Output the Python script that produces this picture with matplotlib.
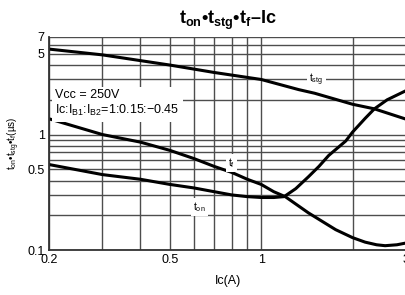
import numpy as np
import matplotlib.pyplot as plt
from matplotlib.ticker import NullFormatter

plt.rcParams['font.family'] = ['Liberation Sans', 'DejaVu Sans']
plt.rcParams['mathtext.fontset'] = 'custom'
plt.rcParams['mathtext.rm'] = 'Liberation Sans'
plt.rcParams['mathtext.bf'] = 'Liberation Sans:bold'
plt.rcParams['mathtext.default'] = 'regular'

# dane (Ic w A, czasy w µs)
ic_stg = [0.2, 0.3, 0.5, 0.7, 1.0, 1.33, 1.5, 2.0, 2.36, 3.0]
t_stg = [5.5, 4.9, 4.0, 3.45, 3.0, 2.45, 2.28, 1.83, 1.67, 1.36]

ic_f = [0.2, 0.3, 0.4, 0.5, 0.6, 0.7, 0.8, 0.9, 1.0, 1.1, 1.2, 1.43, 1.6,
        1.76, 2.0, 2.2, 2.4, 2.56, 2.8, 3.0]
t_f = [1.37, 1.0, 0.86, 0.73, 0.62, 0.53, 0.47, 0.41, 0.37, 0.32, 0.29,
       0.21, 0.175, 0.15, 0.128, 0.117, 0.111, 0.109, 0.111, 0.115]

ic_on = [0.2, 0.3, 0.4, 0.5, 0.6, 0.7, 0.8, 0.9, 1.0, 1.1, 1.19, 1.3,
         1.43, 1.55, 1.67, 1.8, 1.9, 2.0, 2.2, 2.36, 2.6, 3.0]
t_on = [0.55, 0.45, 0.41, 0.37, 0.345, 0.32, 0.30, 0.29, 0.285, 0.285,
        0.29, 0.34, 0.43, 0.53, 0.66, 0.78, 0.88, 1.05, 1.38, 1.67, 2.0, 2.4]

x_ticks = [0.2, 0.5, 1, 3]
x_labels = ['0.2', '0.5', '1', '3']
x_grid = [0.3, 0.4, 0.6, 0.7, 0.8, 0.9, 2]
y_ticks = [0.1, 0.5, 1, 5, 7]
y_labels = ['0.1', '0.5', '1', '5', '7']
y_grid = [0.2, 0.3, 0.4, 0.6, 0.7, 0.8, 0.9, 2, 3, 4, 6]

fig = plt.figure(figsize=(4.06, 2.95), dpi=100)
ax = fig.add_axes([0.1207, 0.1525, 0.8793, 0.7221])
ax.set_xscale('log')
ax.set_yscale('log')
ax.set_xlim(0.2, 3)
ax.set_ylim(0.1, 7)

ax.set_xticks(x_ticks)
ax.set_xticklabels(x_labels)
ax.set_xticks(x_grid, minor=True)
ax.set_yticks(y_ticks)
ax.set_yticklabels(y_labels)
ax.set_yticks(y_grid, minor=True)
ax.xaxis.set_minor_formatter(NullFormatter())
ax.yaxis.set_minor_formatter(NullFormatter())
ax.tick_params(which='both', length=0, labelsize=9, pad=3)
ax.grid(which='both', color='#4d4d4d', lw=1.0)
ax.set_axisbelow(True)

for s in ['top', 'right']:
    ax.spines[s].set_visible(False)
for s in ['left', 'bottom']:
    ax.spines[s].set_color('#333333')
    ax.spines[s].set_linewidth(1.3)

ax.plot(ic_stg, t_stg, color='black', lw=2.2)
ax.plot(ic_f, t_f, color='black', lw=2.2)
ax.plot(ic_on, t_on, color='black', lw=2.2)

box = dict(facecolor='white', edgecolor='none', pad=1.5)
ax.text(1.52, 3.0, 't$_{stg}$', fontsize=7.5, ha='center', va='center', bbox=box)
ax.text(0.8, 0.57, 't$_{f}$', fontsize=7.5, ha='center', va='center', bbox=box)
ax.text(0.625, 0.235, 't$_{on}$', fontsize=7.5, ha='center', va='center', bbox=box)
ax.text(0.017, 0.755, 'Vcc = 250V\nIc:I$_{B1}$:I$_{B2}$=1:0.15:\u22120.45',
        transform=ax.transAxes, fontsize=9, ha='left', va='top',
        linespacing=1.2, bbox=dict(facecolor='white', edgecolor='none', pad=2.5))

ax.set_title(r't$\mathbf{_{on}}$' + '\u2022' + r't$\mathbf{_{stg}}$' + '\u2022'
             + r't$\mathbf{_{f}}$' + '\u2013Ic',
             fontsize=13, fontweight='bold', pad=9)
ax.set_xlabel('Ic(A)', fontsize=9, labelpad=6)
ax.set_ylabel('t$_{on}$\u2022t$_{stg}$\u2022t$_{f}$(\u00b5s)', fontsize=7, labelpad=4)

fig.savefig('out.png', dpi=100)
